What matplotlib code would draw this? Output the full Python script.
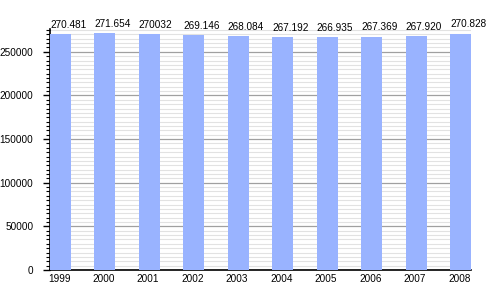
import matplotlib
matplotlib.use("Agg")
import matplotlib.pyplot as plt
from matplotlib.ticker import MultipleLocator

plt.rcParams["font.family"] = ["Liberation Sans", "DejaVu Sans"]

years = ["1999", "2000", "2001", "2002", "2003", "2004", "2005", "2006", "2007", "2008"]
values = [270481, 271654, 270032, 269146, 268084, 267192, 266935, 267369, 267920, 270828]
value_labels = ["270.481", "271.654", "270032", "269.146", "268.084", "267.192",
                "266.935", "267.369", "267.920", "270.828"]

fig = plt.figure(figsize=(5, 3), dpi=100)
ax = fig.add_axes([0.1, 0.1, 0.842, 0.803])

width = 0.47
x = list(range(len(years)))
ax.bar(x, values, width=width, align="edge", color="#99b3ff", zorder=3)

ax.set_xlim(0, len(years) - 1 + width)
ax.set_ylim(0, 276000)

ax.yaxis.set_major_locator(MultipleLocator(50000))
ax.yaxis.set_minor_locator(MultipleLocator(5000))
ax.grid(axis="y", which="major", color="#a0a0a0", linewidth=0.9, zorder=1)
ax.grid(axis="y", which="minor", color="#e2e2e2", linewidth=0.8, zorder=0)

ax.set_xticks([i + width / 2 - 0.03 for i in x])
ax.set_xticklabels(years, fontsize=7.2)
ax.tick_params(axis="x", length=0, pad=3)
ax.tick_params(axis="y", which="major", length=5, width=1, labelsize=7.2, pad=7)
ax.tick_params(axis="y", which="minor", length=3, width=0.8)

for s in ("top", "right"):
    ax.spines[s].set_visible(False)
for s in ("left", "bottom"):
    ax.spines[s].set_color("black")
    ax.spines[s].set_linewidth(1.2)

for xi, v, lab in zip(x, values, value_labels):
    ax.annotate(lab, (xi, v), xytext=(0, 3), textcoords="offset points",
                ha="left", va="bottom", fontsize=7.2)

fig.savefig("out.png", dpi=100)
